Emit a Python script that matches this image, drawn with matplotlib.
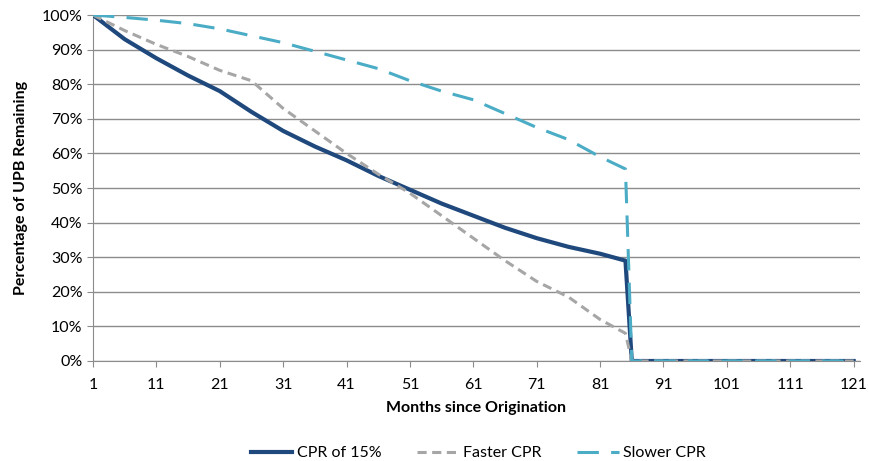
import matplotlib
matplotlib.use("Agg")
import matplotlib.pyplot as plt

plt.rcParams['font.family'] = ['Lato', 'DejaVu Sans']

# (months since origination, % of UPB remaining)
months_base = [1, 6, 11, 16, 21, 26, 31, 36, 41, 46, 51, 56, 61, 66, 71, 76, 81, 85, 86, 121]
cpr15 = [100, 93, 87.5, 82.5, 78, 72, 66.5, 62, 58, 53.5, 49.5, 45.5, 42, 38.5, 35.5, 33, 31, 29, 0, 0]

months_fast = [1, 6, 11, 16, 21, 26, 31, 36, 41, 46, 51, 56, 61, 66, 71, 76, 81, 85, 86, 121]
faster = [100, 95.5, 91.5, 88, 84, 81, 73, 66.5, 60, 54, 48.5, 42, 35.5, 29, 23, 18.5, 12, 8, 0, 0]

months_slow = [1, 6, 11, 16, 21, 26, 31, 36, 41, 46, 51, 56, 61, 66, 71, 76, 81, 85, 86, 121]
slower = [100, 99.3, 98.5, 97.5, 96, 94, 92, 89.5, 87, 84.5, 81, 78, 75.5, 71.5, 67.5, 64, 59, 55.5, 0, 0]

x_ticks = list(range(1, 122, 10))
y_ticks = list(range(0, 101, 10))

fig = plt.figure(figsize=(8.7, 4.61), dpi=100)
ax = fig.add_axes([93 / 870, 1 - 361 / 461, (860 - 93) / 870, (361 - 15) / 461])

ax.plot(months_base, cpr15, color='#1F497D', lw=3, label='CPR of 15%', zorder=3)
ax.plot(months_fast, faster, color='#A6A6A6', lw=2.2, ls=(0, (3, 1.8)), label='Faster CPR', zorder=4)
ax.plot(months_slow, slower, color='#4BACC6', lw=2.2, ls=(0, (7, 4)), label='Slower CPR', zorder=5)

ax.set_xlim(1, 122)
ax.set_ylim(0, 100)
ax.set_xticks(x_ticks)
ax.set_yticks(y_ticks)
ax.set_yticklabels([f'{v}%' for v in y_ticks])
ax.yaxis.grid(True, color='#8C8C8C', lw=1)
ax.set_axisbelow(True)
for s in ['top', 'right']:
    ax.spines[s].set_visible(False)
for s in ['left', 'bottom']:
    ax.spines[s].set_color('#8C8C8C')
ax.tick_params(axis='both', colors='#8C8C8C', labelcolor='black', labelsize=11.5, length=4)
ax.tick_params(axis='x', pad=8)

ax.set_xlabel('Months since Origination', fontsize=11.5, fontweight='bold', labelpad=7)
ax.set_ylabel('Percentage of UPB Remaining', fontsize=11.5, fontweight='bold', labelpad=10)

fig.legend(loc='lower center', bbox_to_anchor=(0.55, -0.03), ncol=3, frameon=False,
           fontsize=11.5, handlelength=2.6, handletextpad=0.3, columnspacing=2.2)

fig.savefig('out.png', dpi=100)
